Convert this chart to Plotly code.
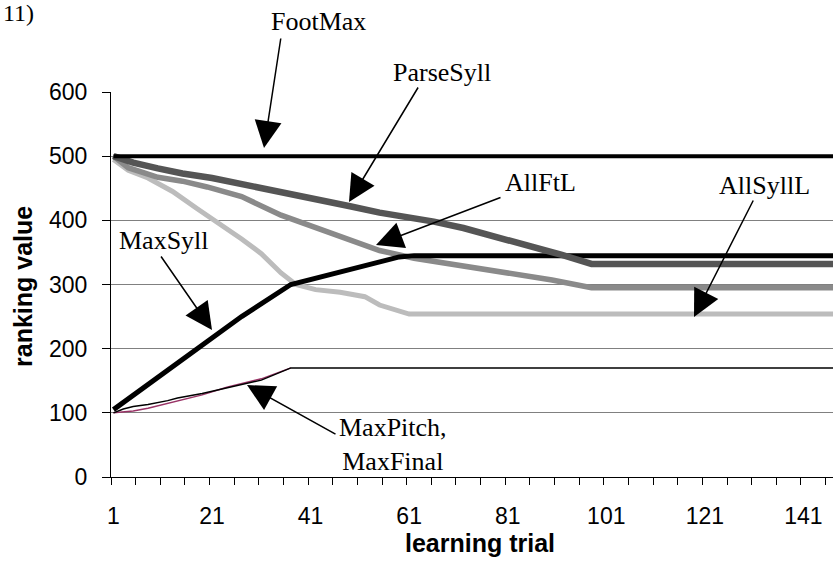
import plotly.graph_objects as go

# ---------------- data ----------------
foot_t = [1, 150]
foot_v = [500, 500]

parse_t = [1, 5, 10, 15, 21, 27, 33, 39, 45, 49, 55, 60, 66, 72, 80, 86, 92, 98, 150]
parse_v = [500, 490, 481, 473, 466, 457, 448, 438, 429, 422, 412, 406, 398, 388, 372, 360, 346, 332, 332]

allft_t = [1, 4, 10, 15, 20, 27, 35, 41, 46, 50, 55, 62, 69, 76, 83, 90, 98, 150]
allft_v = [500, 482, 467, 461, 452, 437, 408, 392, 378, 367, 353, 341, 333, 325, 316, 307, 295, 295]

allsyl_t = [1, 4, 8, 13, 18, 23, 27, 31, 35, 38, 42, 47, 52, 55, 58, 61, 150]
allsyl_v = [495, 478, 466, 445, 418, 392, 371, 348, 318, 300, 292, 288, 281, 268, 260, 254, 254]

maxsyll_t = [1, 5, 10, 18, 27, 37, 40, 46, 53, 59, 62, 150]
maxsyll_v = [105, 127, 155, 200, 250, 300, 306, 317, 332, 343, 345, 345]

maxpitch_t = [1, 3, 5, 8, 12, 14, 19, 24, 31, 37, 150]
maxpitch_v = [100, 106, 110, 113, 119, 123, 130, 139, 151, 170, 170]

maxfinal_t = [1, 5, 8, 14, 19, 24, 31, 37]
maxfinal_v = [100, 103, 107, 119, 128, 140, 153, 170]

x_tick_labels = ["1", "21", "41", "61", "81", "101", "121", "141"]
y_tick_values = [0, 100, 200, 300, 400, 500, 600]

# ---------------- layout helpers ----------------
W, H = 833, 573
L, R, T, B = 111, 833, 92, 477
XR = (0.5, 147.0)
YR = (0, 600)


def dx(px):
    return XR[0] + (px - L) / (R - L) * (XR[1] - XR[0])


def dy(py):
    return YR[0] + (B - py) / (B - T) * (YR[1] - YR[0])


def paper_x(px):
    return (px - L) / (R - L)


def paper_y(py):
    return (B - py) / (B - T)


fig = go.Figure()


def add_line(t, v, color, width, name):
    fig.add_trace(go.Scatter(x=t, y=v, mode="lines", name=name,
                             line=dict(color=color, width=width),
                             hoverinfo="skip", showlegend=False))


add_line(maxfinal_t, maxfinal_v, "#993366", 1.5, "MaxFinal")
add_line(maxpitch_t, maxpitch_v, "#000000", 1.5, "MaxPitch")
add_line(allsyl_t, allsyl_v, "#bcbcbc", 5, "AllSyllL")
add_line(allft_t, allft_v, "#8a8a8a", 5.5, "AllFtL")
add_line(maxsyll_t, maxsyll_v, "#000000", 5, "MaxSyll")
add_line(parse_t, parse_v, "#555555", 6.5, "ParseSyll")
add_line(foot_t, foot_v, "#000000", 4, "FootMax")

serif = "Liberation Serif, Times New Roman, serif"
sans = "Liberation Sans, Arial, sans-serif"

annotations = []


def label(text, px, py, size=26, family=serif, angle=0, anchor="center"):
    annotations.append(dict(x=paper_x(px), y=paper_y(py), xref="paper", yref="paper", text=text,
                            showarrow=False, xanchor=anchor, yanchor="middle", textangle=angle,
                            font=dict(family=family, size=size, color="black")))


def arrow(tail, tip):
    annotations.append(dict(x=dx(tip[0]), y=dy(tip[1]), ax=dx(tail[0]), ay=dy(tail[1]),
                            xref="x", yref="y", axref="x", ayref="y", text="",
                            showarrow=True, arrowhead=2, arrowsize=3.6,
                            arrowwidth=1.5, arrowcolor="black", standoff=0))


label("FootMax", 318, 22)
arrow((281, 37), (264, 148))
label("ParseSyll", 442, 72)
arrow((419, 86), (349, 202))
label("AllFtL", 540, 182)
arrow((502, 197), (376, 245))
label("AllSyllL", 764, 185)
arrow((754, 199), (694, 317))
label("MaxSyll", 164, 240)
arrow((160, 255), (212, 330))
label("MaxPitch,<br>MaxFinal", 393, 444)
arrow((337, 435), (247, 385))

label("11)", 1, 13, size=24, anchor="left")
label("<b>learning trial</b>", 480, 543, size=25, family=sans)
label("<b>ranking value</b>", 23, 287, size=25, family=sans, angle=-90)

x_tick_vals = [int(s) for s in x_tick_labels]
minor_vals = [0.5 + 5 * k for k in range(30)]

fig.update_layout(
    width=W, height=H,
    margin=dict(l=L, r=W - R, t=T, b=H - B, pad=0),
    paper_bgcolor="white", plot_bgcolor="white",
    showlegend=False,
    annotations=annotations,
    xaxis=dict(range=list(XR), tickmode="array", tickvals=x_tick_vals, ticktext=x_tick_labels,
               ticks="", showgrid=False, zeroline=False,
               showline=True, linecolor="black", linewidth=1,
               tickfont=dict(family=sans, size=23, color="black"),
               ticklabelstandoff=18,
               minor=dict(tickmode="array", tickvals=minor_vals, ticks="outside",
                          ticklen=7, tickcolor="black", tickwidth=1, showgrid=False)),
    yaxis=dict(range=list(YR), tickmode="array", tickvals=y_tick_values,
               ticks="outside", ticklen=8, tickcolor="black", tickwidth=1,
               showgrid=True, gridcolor="#808080", gridwidth=1, zeroline=False,
               showline=True, linecolor="black", linewidth=1,
               tickfont=dict(family=sans, size=23, color="black"),
               ticklabelstandoff=10),
)

fig.write_html("out.html", config={"displayModeBar": False},
               post_script="document.body.style.margin='0';")
